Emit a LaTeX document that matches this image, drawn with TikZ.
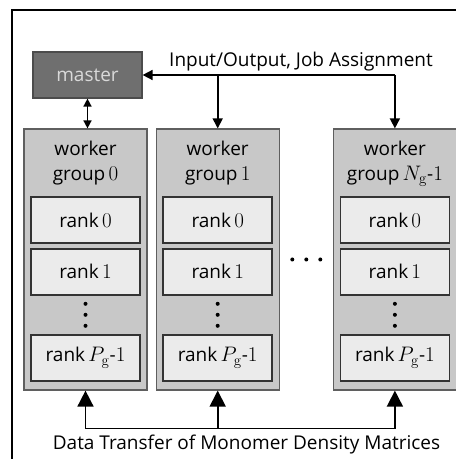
\RequirePackage{fix-cm}
\documentclass[tikz,border=0pt]{standalone}
\usepackage[no-math]{fontspec}
\setmainfont{Open Sans}
\DeclareMathSizes{19}{21}{15}{11}
\usetikzlibrary{arrows.meta,positioning,calc}
\definecolor{mastercolor}{RGB}{111,111,111}
\definecolor{groupcolor}{RGB}{200,200,200}
\definecolor{grouplinecolor}{RGB}{95,95,95}
\definecolor{rankcolor}{RGB}{235,235,235}

\begin{document}
\begin{tikzpicture}[
    x=1pt, y=1pt,
    font=\fontsize{19}{25}\selectfont,
    box/.style={rectangle, draw, inner sep=0pt, text centered},
    masterbox/.style={box, draw=black!70, line width=1.2pt, fill=mastercolor, text=black!15, minimum width=109pt, minimum height=46pt},
    group/.style={box, draw=grouplinecolor, line width=1.2pt, fill=groupcolor, minimum width=123pt, minimum height=261pt},
    grouplabel/.style={align=center, inner sep=0pt},
    rank/.style={box, draw=black!80, line width=1.6pt, fill=rankcolor, minimum width=109pt, minimum height=46pt},
    dot/.style={circle, fill=black, inner sep=0pt, minimum size=4pt},
    link/.style={line width=1.6pt},
    toparrow/.style={link, -{Triangle[width=10pt,length=10pt]}},
    dblarrow/.style={link, {Triangle[width=8pt,length=8pt]}-{Triangle[width=8pt,length=8pt]}},
    botarrow/.style={link, -{Triangle[width=16pt,length=16pt]}}
]
\useasboundingbox (0,0) rectangle (456,459);

% Frame
\draw[line width=1.3pt] (12,-10) rectangle (470,449);

% Master
\node[masterbox] (master) at (87.5,384) {master};

% Worker groups
\node[group] (wg0) at (85.5,199.5) {};
\node[group, right=8pt of wg0] (wg1) {};
\node[group, right=53pt of wg1] (wgN) {};

\node[grouplabel] (lab0) at ([yshift=-35pt]wg0.north) {worker\\group\,$0$};
\node[grouplabel] (lab1) at ([yshift=-35pt]wg1.north) {worker\\group\,$1$};
\node[grouplabel] (labN) at ([yshift=-35pt]wgN.north) {worker\\group\,$N_{\mathrm{g}}$-$1$};

% Ranks
\foreach \g in {0,1,N} {
    \node[rank, below=68pt of wg\g.north] (r0\g) {rank\,$0$};
    \node[rank, below=4pt of r0\g] (r1\g) {rank\,$1$};
    \node[rank, above=9pt of wg\g.south] (rp\g) {rank\,$P_{\mathrm{g}}$-$1$};
    \foreach \d in {-11,0,11} {
        \node[dot] at ([yshift=\d pt]$(r1\g.south)!0.5!(rp\g.north)$) {};
    }
}

% Dots between groups
\foreach \d in {-14,0,14} {
    \node[dot] at ([xshift=\d pt]$(wg1.east)!0.5!(wgN.west)$ |- r1N.center) {};
}

% Input/Output arrows
\coordinate (io) at (wgN.north |- master.east);
\node[inner sep=0pt, anchor=base] (iolabel) at (301,392) {Input/Output, Job Assignment};
\draw[toparrow] (io) -- (master.east);
\draw[toparrow] (wg1.north |- master.east) -- (wg1.north);
\draw[toparrow] (io) -- (wgN.north);
\draw[dblarrow] (master.south) -- (master.south |- wg0.north);

% Data transfer arrows
\coordinate (dt0) at ([yshift=-38pt]wg0.south);
\coordinate (dtN) at (wgN.south |- dt0);
\draw[link] (dt0) -- (dtN);
\foreach \g in {0,1,N} {
    \draw[botarrow] (wg\g.south |- dt0) -- (wg\g.south);
}
\node[inner sep=0pt] (dtlabel) at (246.5,14) {Data Transfer of Monomer Density Matrices};

\end{tikzpicture}
\end{document}
